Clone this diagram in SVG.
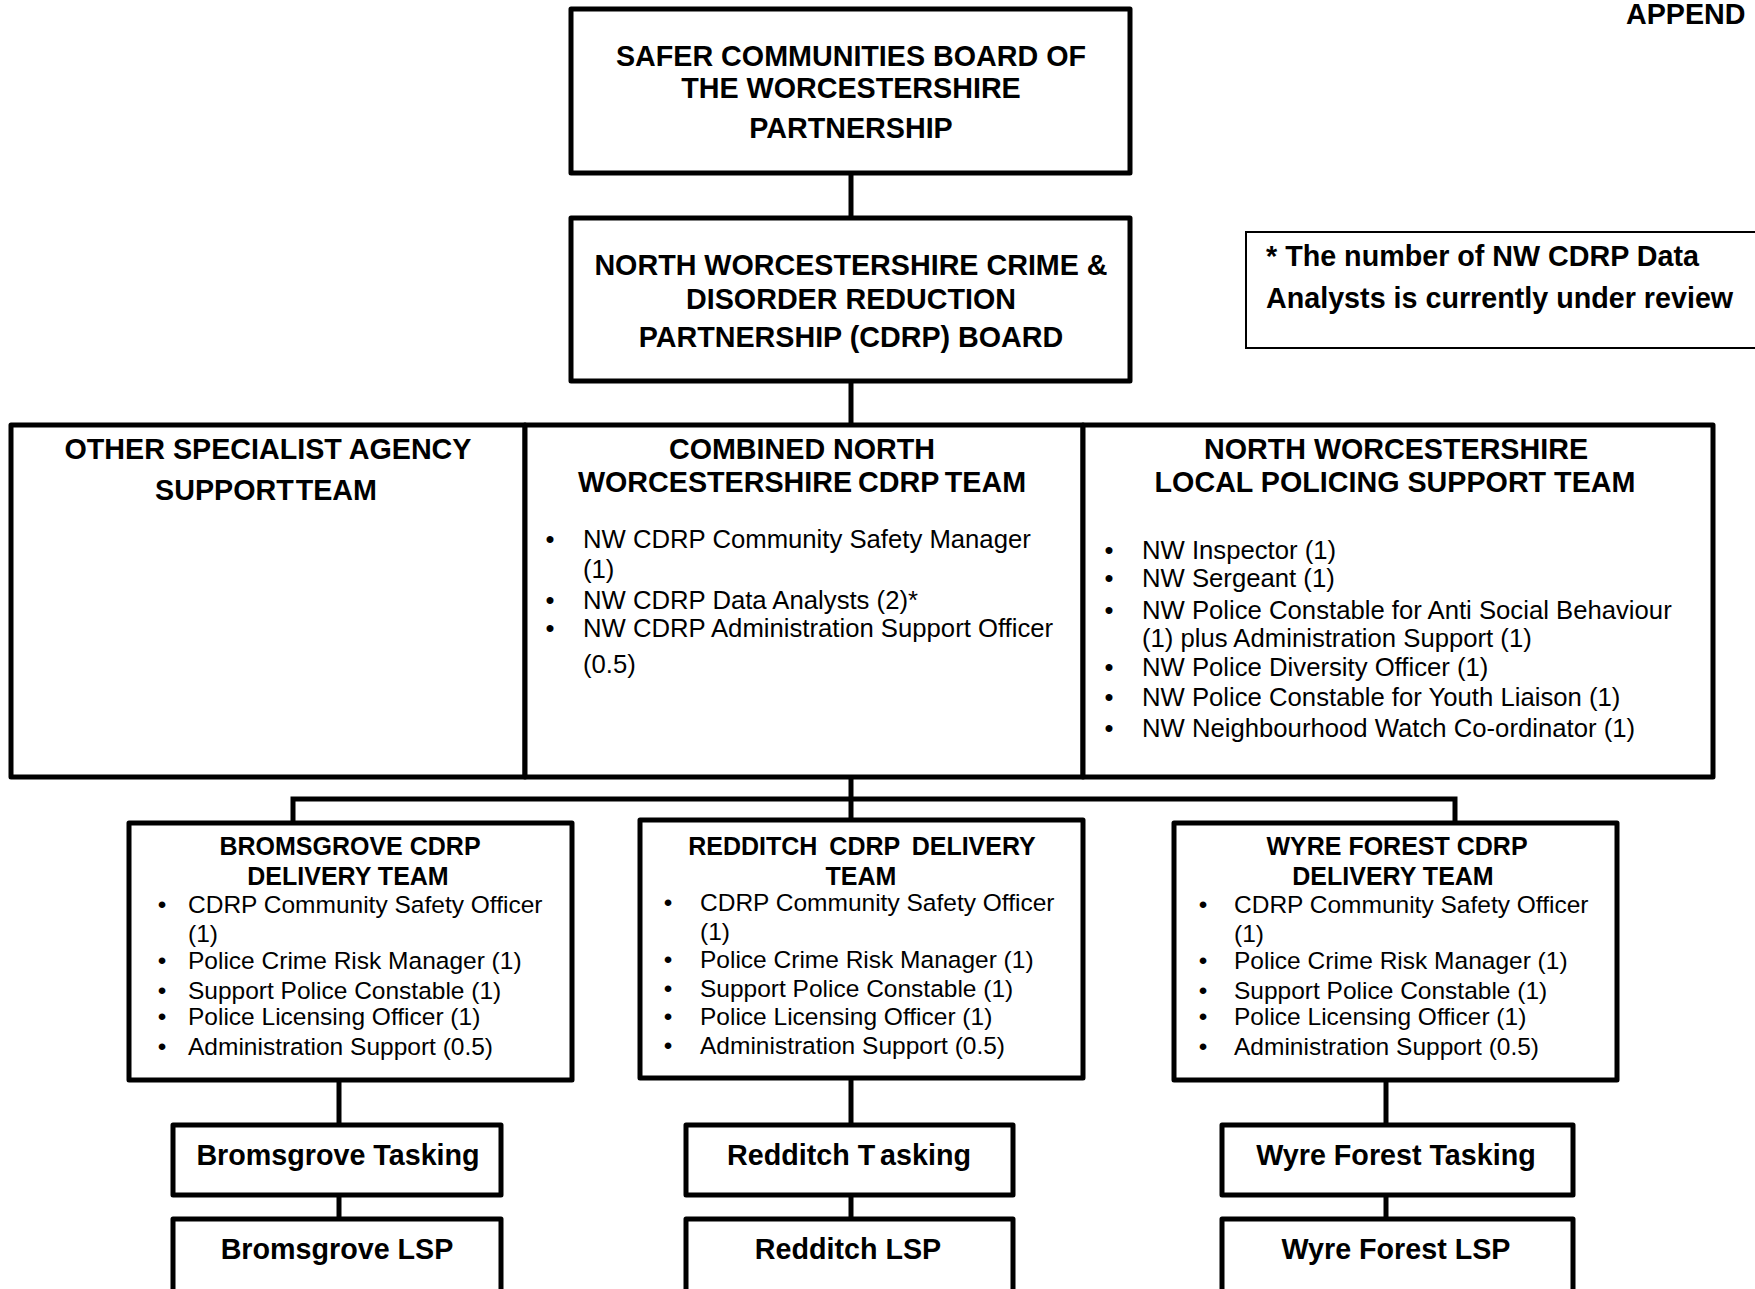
<svg xmlns="http://www.w3.org/2000/svg" width="1755" height="1289" viewBox="0 0 1755 1289">
<style>
.box{fill:#fff;stroke:#000;stroke-width:5;stroke-linejoin:round}
.note{fill:#fff;stroke:#000;stroke-width:2}
.conn{fill:none;stroke:#000;stroke-width:5}
text{font-family:"Liberation Sans",Arial,sans-serif;fill:#000}
.h{font-weight:bold;font-size:28.7px;text-anchor:middle}
.hs{font-weight:bold;font-size:25px;text-anchor:middle}
.hl{font-weight:bold;font-size:28.7px}
.m{font-size:25.7px}
.s{font-size:24.5px}
.b{text-anchor:middle}
</style>
<rect width="1755" height="1289" fill="#fff"/>
<g id="connectors">
<line class="conn" x1="851" y1="173" x2="851" y2="218"/>
<line class="conn" x1="851" y1="381" x2="851" y2="425"/>
<line class="conn" x1="851" y1="777" x2="851" y2="820"/>
<polyline class="conn" points="293,823 293,799 1455,799 1455,823"/>
<line class="conn" x1="339" y1="1080" x2="339" y2="1125"/>
<line class="conn" x1="339" y1="1195" x2="339" y2="1219"/>
<line class="conn" x1="851" y1="1078" x2="851" y2="1125"/>
<line class="conn" x1="851" y1="1195" x2="851" y2="1219"/>
<line class="conn" x1="1386" y1="1080" x2="1386" y2="1125"/>
<line class="conn" x1="1386" y1="1195" x2="1386" y2="1219"/>
</g>
<g id="appendix">
<text class="hl" x="1626" y="24">APPEND</text>
</g>
<g id="safer-communities-board">
<rect class="box" x="571" y="9" width="559" height="164"/>
<text class="h" x="851" y="66">SAFER COMMUNITIES BOARD OF</text>
<text class="h" x="851" y="98">THE WORCESTERSHIRE</text>
<text class="h" x="851" y="138">PARTNERSHIP</text>
</g>
<g id="cdrp-board">
<rect class="box" x="571" y="218" width="559" height="163"/>
<text class="h" x="851" y="275">NORTH WORCESTERSHIRE CRIME &amp;</text>
<text class="h" x="851" y="309">DISORDER REDUCTION</text>
<text class="h" x="851" y="347">PARTNERSHIP (CDRP) BOARD</text>
</g>
<g id="note">
<rect class="note" x="1246" y="232" width="520" height="116"/>
<text class="hl" x="1266" y="266">* The number of NW CDRP Data</text>
<text class="hl" x="1266" y="308">Analysts is currently under review</text>
</g>
<g id="other-specialist">
<rect class="box" x="11" y="425" width="514" height="352"/>
<text class="h" x="268" y="459">OTHER SPECIALIST AGENCY</text>
<text class="h" x="266" y="500" word-spacing="-6">SUPPORT TEAM</text>
</g>
<g id="combined-team">
<rect class="box" x="525" y="425" width="558" height="352"/>
<text class="h" x="802" y="459">COMBINED NORTH</text>
<text class="h" x="802" y="492" word-spacing="-2">WORCESTERSHIRE CDRP TEAM</text>
<text class="m b" x="550" y="548">•</text>
<text class="m" x="583" y="548">NW CDRP Community Safety Manager</text>
<text class="m" x="583" y="578">(1)</text>
<text class="m b" x="550" y="609">•</text>
<text class="m" x="583" y="609">NW CDRP Data Analysts (2)*</text>
<text class="m b" x="550" y="637">•</text>
<text class="m" x="583" y="637">NW CDRP Administration Support Officer</text>
<text class="m" x="583" y="673">(0.5)</text>
</g>
<g id="policing-team">
<rect class="box" x="1083" y="425" width="630" height="352"/>
<text class="h" x="1396" y="459">NORTH WORCESTERSHIRE</text>
<text class="h" x="1395" y="492">LOCAL POLICING SUPPORT TEAM</text>
<text class="m b" x="1109" y="559">•</text>
<text class="m" x="1142" y="559">NW Inspector (1)</text>
<text class="m b" x="1109" y="587">•</text>
<text class="m" x="1142" y="587">NW Sergeant (1)</text>
<text class="m b" x="1109" y="619">•</text>
<text class="m" x="1142" y="619">NW Police Constable for Anti Social Behaviour</text>
<text class="m" x="1142" y="647">(1) plus Administration Support (1)</text>
<text class="m b" x="1109" y="676">•</text>
<text class="m" x="1142" y="676">NW Police Diversity Officer (1)</text>
<text class="m b" x="1109" y="706">•</text>
<text class="m" x="1142" y="706">NW Police Constable for Youth Liaison (1)</text>
<text class="m b" x="1109" y="737">•</text>
<text class="m" x="1142" y="737">NW Neighbourhood Watch Co-ordinator (1)</text>
</g>
<g id="bromsgrove-team">
<rect class="box" x="129" y="823" width="443" height="257"/>
<text class="hs" x="350" y="855">BROMSGROVE CDRP</text>
<text class="hs" x="348" y="885">DELIVERY TEAM</text>
<text class="s b" x="162" y="913">•</text>
<text class="s" x="188" y="913">CDRP Community Safety Officer</text>
<text class="s" x="188" y="942">(1)</text>
<text class="s b" x="162" y="969">•</text>
<text class="s" x="188" y="969">Police Crime Risk Manager (1)</text>
<text class="s b" x="162" y="999">•</text>
<text class="s" x="188" y="999">Support Police Constable (1)</text>
<text class="s b" x="162" y="1025">•</text>
<text class="s" x="188" y="1025">Police Licensing Officer (1)</text>
<text class="s b" x="162" y="1055">•</text>
<text class="s" x="188" y="1055">Administration Support (0.5)</text>
</g>
<g id="redditch-team">
<rect class="box" x="640" y="820" width="443" height="258"/>
<text class="hs" x="862" y="855" word-spacing="5">REDDITCH CDRP DELIVERY</text>
<text class="hs" x="861" y="885">TEAM</text>
<text class="s b" x="668" y="911">•</text>
<text class="s" x="700" y="911">CDRP Community Safety Officer</text>
<text class="s" x="700" y="940">(1)</text>
<text class="s b" x="668" y="968">•</text>
<text class="s" x="700" y="968">Police Crime Risk Manager (1)</text>
<text class="s b" x="668" y="997">•</text>
<text class="s" x="700" y="997">Support Police Constable (1)</text>
<text class="s b" x="668" y="1025">•</text>
<text class="s" x="700" y="1025">Police Licensing Officer (1)</text>
<text class="s b" x="668" y="1054">•</text>
<text class="s" x="700" y="1054">Administration Support (0.5)</text>
</g>
<g id="wyre-forest-team">
<rect class="box" x="1174" y="823" width="443" height="257"/>
<text class="hs" x="1397" y="855">WYRE FOREST CDRP</text>
<text class="hs" x="1393" y="885">DELIVERY TEAM</text>
<text class="s b" x="1203" y="913">•</text>
<text class="s" x="1234" y="913">CDRP Community Safety Officer</text>
<text class="s" x="1234" y="942">(1)</text>
<text class="s b" x="1203" y="969">•</text>
<text class="s" x="1234" y="969">Police Crime Risk Manager (1)</text>
<text class="s b" x="1203" y="999">•</text>
<text class="s" x="1234" y="999">Support Police Constable (1)</text>
<text class="s b" x="1203" y="1025">•</text>
<text class="s" x="1234" y="1025">Police Licensing Officer (1)</text>
<text class="s b" x="1203" y="1055">•</text>
<text class="s" x="1234" y="1055">Administration Support (0.5)</text>
</g>
<g id="bromsgrove-tasking">
<rect class="box" x="173" y="1125" width="328" height="70"/>
<text class="h" x="338" y="1165">Bromsgrove Tasking</text>
</g>
<g id="bromsgrove-lsp">
<rect class="box" x="173" y="1219" width="328" height="80"/>
<text class="h" x="337" y="1259">Bromsgrove LSP</text>
</g>
<g id="redditch-tasking">
<rect class="box" x="686" y="1125" width="327" height="70"/>
<text class="h" x="849" y="1165">Redditch T<tspan dx="7">asking</tspan></text>
</g>
<g id="redditch-lsp">
<rect class="box" x="686" y="1219" width="327" height="80"/>
<text class="h" x="848" y="1259">Redditch LSP</text>
</g>
<g id="wyre-forest-tasking">
<rect class="box" x="1222" y="1125" width="351" height="70"/>
<text class="h" x="1396" y="1165">Wyre Forest Tasking</text>
</g>
<g id="wyre-forest-lsp">
<rect class="box" x="1222" y="1219" width="351" height="80"/>
<text class="h" x="1396" y="1259">Wyre Forest LSP</text>
</g>
</svg>
